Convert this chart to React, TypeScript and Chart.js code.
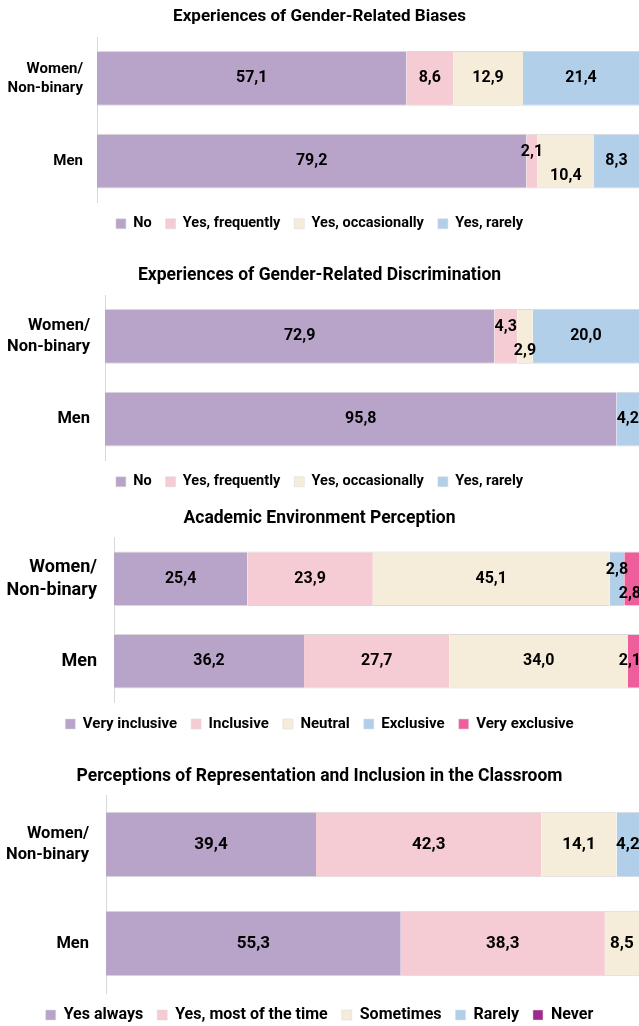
import React, { useEffect, useRef } from "react";
import { Chart, registerables } from "chart.js";
Chart.register(...registerables);

// ---------- data ----------
const groups: (string | string[])[] = [["Women/", "Non-binary"], "Men"];

const biasTitle = "Experiences of Gender-Related Biases";
const biasSeries = ["No", "Yes, frequently", "Yes, occasionally", "Yes, rarely"];
const biasNo = [57.1, 79.2];
const biasFrequently = [8.6, 2.1];
const biasOccasionally = [12.9, 10.4];
const biasRarely = [21.4, 8.3];

const discTitle = "Experiences of Gender-Related Discrimination";
const discSeries = ["No", "Yes, frequently", "Yes, occasionally", "Yes, rarely"];
const discNo = [72.9, 95.8];
const discFrequently = [4.3, null];
const discOccasionally = [2.9, null];
const discRarely = [20.0, 4.2];

const envTitle = "Academic Environment Perception";
const envSeries = ["Very inclusive", "Inclusive", "Neutral", "Exclusive", "Very exclusive"];
const envVeryInclusive = [25.4, 36.2];
const envInclusive = [23.9, 27.7];
const envNeutral = [45.1, 34.0];
const envExclusive = [2.8, null];
const envVeryExclusive = [2.8, 2.1];

const repTitle = "Perceptions of Representation and Inclusion in the Classroom";
const repSeries = ["Yes always", "Yes, most of the time", "Sometimes", "Rarely", "Never"];
const repAlways = [39.4, 55.3];
const repMostTime = [42.3, 38.3];
const repSometimes = [14.1, 8.5];
const repRarely = [4.2, null];
const repNever = [null, null];

// ---------- styles ----------
const PURPLE = "#b8a4c9";
const PINK = "#f5cbd4";
const CREAM = "#f5ecda";
const BLUE = "#b2cfea";
const HOTPINK = "#ee5e9b";
const MAGENTA = "#a1288c";
const FONT = "Roboto";

const valueLabels = {
  id: "valueLabels",
  afterDatasetsDraw(chart: any, _args: any, opts: any) {
    const ctx = chart.ctx;
    const area = chart.chartArea;
    ctx.save();
    ctx.font = `bold ${opts.size || 15}px ${FONT}`;
    ctx.fillStyle = "#000";
    ctx.textAlign = "center";
    ctx.textBaseline = "middle";
    const n = chart.data.labels.length;
    for (let i = 0; i < n; i++) {
      const items: any[] = [];
      chart.data.datasets.forEach((ds: any, di: number) => {
        const v = ds.data[i];
        if (v == null || !chart.isDatasetVisible(di)) return;
        const el = chart.getDatasetMeta(di).data[i];
        const left = Math.min(el.base, el.x);
        const right = Math.max(el.base, el.x);
        const visL = Math.max(left, area.left);
        const visR = Math.min(right, area.right);
        if (visR <= visL) return;
        const text = Number(v).toFixed(1).replace(".", ",");
        const w = ctx.measureText(text).width;
        let x = (visL + visR) / 2;
        x = Math.min(x, area.right + 2 - w / 2);
        items.push({ text, x, y: el.y, w, dy: 0 });
      });
      for (let k = 1; k < items.length; k++) {
        const a = items[k - 1];
        const b = items[k];
        if (a.x + a.w / 2 + 4 > b.x - b.w / 2 - 4) {
          a.dy = Math.min(a.dy, -9);
          b.dy = 15;
        }
      }
      items.forEach((it) => ctx.fillText(it.text, it.x, it.y + it.dy));
    }
    ctx.restore();
  },
};

type Spec = {
  title: string;
  titleSize: number;
  titlePad: { top: number; bottom: number };
  tickSize: number;
  tickPad: number;
  axisX: number;
  labelSize: number;
  legendSize: number;
  series: string[];
  values: (number | null)[][];
  colors: string[];
  height: number;
  top: number;
};

const specs: Spec[] = [
  {
    title: biasTitle, titleSize: 17, titlePad: { top: 7, bottom: 9.6 },
    tickSize: 15, tickPad: 14, axisX: 97, labelSize: 16, legendSize: 14.5,
    series: biasSeries, values: [biasNo, biasFrequently, biasOccasionally, biasRarely],
    colors: [PURPLE, PINK, CREAM, BLUE], height: 241, top: 0,
  },
  {
    title: discTitle, titleSize: 17.5, titlePad: { top: 7.5, bottom: 8.5 },
    tickSize: 16.5, tickPad: 15, axisX: 105, labelSize: 16, legendSize: 14.5,
    series: discSeries, values: [discNo, discFrequently, discOccasionally, discRarely],
    colors: [PURPLE, PINK, CREAM, BLUE], height: 241, top: 258,
  },
  {
    title: envTitle, titleSize: 17.5, titlePad: { top: 8.5, bottom: 8 },
    tickSize: 18, tickPad: 17, axisX: 114, labelSize: 16, legendSize: 15,
    series: envSeries, values: [envVeryInclusive, envInclusive, envNeutral, envExclusive, envVeryExclusive],
    colors: [PURPLE, PINK, CREAM, BLUE, HOTPINK], height: 242, top: 500,
  },
  {
    title: repTitle, titleSize: 17.5, titlePad: { top: 7.5, bottom: 7.5 },
    tickSize: 16.5, tickPad: 17, axisX: 106, labelSize: 17, legendSize: 16,
    series: repSeries, values: [repAlways, repMostTime, repSometimes, repRarely, repNever],
    colors: [PURPLE, PINK, CREAM, BLUE, MAGENTA], height: 274, top: 759,
  },
];

function StackedBar({ spec }: { spec: Spec }) {
  const ref = useRef<HTMLCanvasElement | null>(null);
  useEffect(() => {
    if (!ref.current) return;
    const chart = new Chart(ref.current, {
      type: "bar",
      data: {
        labels: groups,
        datasets: spec.series.map((name, i) => ({
          label: name,
          data: spec.values[i],
          backgroundColor: spec.colors[i],
          borderColor: "#d9d9d9",
          borderWidth: { top: 1, bottom: 1, left: 0, right: 0 },
          borderSkipped: false,
          barPercentage: 0.66,
          categoryPercentage: 1,
        })),
      },
      options: {
        indexAxis: "y",
        responsive: false,
        animation: false,
        layout: { padding: 0 },
        scales: {
          x: { stacked: true, min: 0, max: 100, display: false },
          y: {
            stacked: true,
            grid: { display: false, drawTicks: false },
            border: { display: true, color: "#d9d9d9", width: 1 },
            ticks: {
              color: "#000",
              padding: spec.tickPad,
              font: { family: FONT, size: spec.tickSize, weight: "bold", lineHeight: 1.25 },
            },
            afterFit: (scale: any) => {
              scale.width = spec.axisX;
            },
          },
        },
        plugins: {
          title: {
            display: true,
            text: spec.title,
            color: "#000",
            font: { family: FONT, size: spec.titleSize, weight: "bold" },
            padding: spec.titlePad,
          },
          legend: {
            position: "bottom",
            labels: {
              color: "#000",
              boxWidth: 10,
              boxHeight: 10,
              padding: 14,
              font: { family: FONT, size: spec.legendSize, weight: "bold" },
            },
          },
          tooltip: { enabled: false },
          valueLabels: { size: spec.labelSize },
        } as any,
      },
      plugins: [valueLabels],
    } as any);
    return () => chart.destroy();
  }, [spec]);
  return (
    <canvas
      ref={ref}
      width={639}
      height={spec.height}
      style={{ position: "absolute", left: 0, top: spec.top, display: "block" }}
    />
  );
}

export default function App() {
  return (
    <div
      style={{
        position: "absolute",
        left: 0,
        top: 0,
        width: 639,
        height: 1026,
        overflow: "hidden",
        background: "#fff",
      }}
    >
      {specs.map((s, i) => (
        <StackedBar key={i} spec={s} />
      ))}
    </div>
  );
}
